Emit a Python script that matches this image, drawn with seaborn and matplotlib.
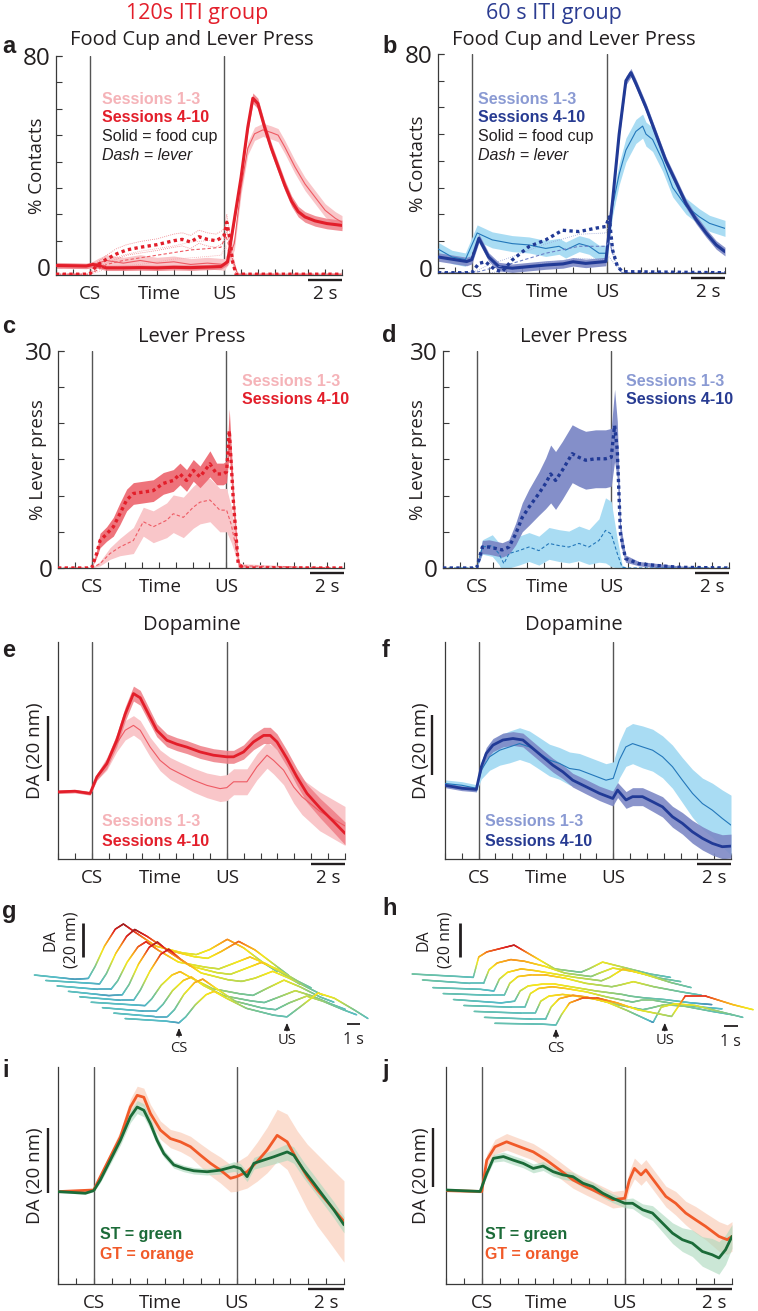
import numpy as np
import matplotlib
matplotlib.use("Agg")
import matplotlib.pyplot as plt
import seaborn as sns
from matplotlib.collections import LineCollection
from matplotlib.colors import LinearSegmentedColormap, Normalize
import matplotlib.transforms as mtransforms

# ------------------------------------------------------------------ data
# panel a : 120 s ITI, food cup (solid) and lever (dotted), % contacts
A_FC_LATE_T = [-2, -1, -0.2, 0.2, 1, 2, 3, 4, 5, 6, 7, 7.8, 8.2, 8.6, 9.0, 9.4, 9.7, 10.0, 10.4, 10.8, 11.2, 11.6, 12.0, 12.4, 12.8, 13.4, 14.1, 15]
A_FC_LATE = [0.6, 0.5, 0.4, 1.0, -0.3, -0.3, -0.2, -0.3, -0.1, -0.2, 0.0, 0.2, 2, 18, 34, 53, 64, 62, 53, 45, 38, 31, 25, 21, 19, 17.5, 16.5, 15.8]
A_FC_LATE_E = [1, 1, 1, 1, 1, 1, 1, 1, 1, 1, 1, 1, 1.2, 1.5, 1.8, 2, 2, 2, 2, 2, 2, 2, 2, 2, 2, 2, 2, 2]
A_FC_EARLY_T = [-2, -1, 0, 0.5, 1, 2, 3, 4, 5, 6, 7, 8.0, 8.3, 8.6, 9.0, 9.4, 9.8, 10.3, 10.8, 11.2, 11.6, 12.2, 12.8, 13.4, 14.0, 14.6, 15]
A_FC_EARLY = [0.8, 0.6, 0.5, 1.5, 2.5, 1.5, 2.5, 1.5, 2.0, 1.0, 1.5, 1.0, 4, 9, 30, 45, 50.5, 52, 51, 50, 45.5, 38, 31.5, 26.5, 21.5, 18.5, 17]
A_FC_EARLY_E = [1, 1, 1, 1.8, 2.2, 2.2, 2.2, 2.2, 2.2, 2.2, 2.2, 2.2, 2.5, 2.5, 2.5, 2.5, 2.5, 2.5, 2.5, 2.5, 2.5, 2.5, 2.5, 2.5, 2.5, 2.5, 2.5]
A_LEV_LATE_T = [-2, 0, 0.4, 1.0, 1.6, 2.2, 3.0, 4.0, 5.0, 5.5, 6.0, 6.5, 7.0, 7.5, 7.8, 8.0, 8.15, 8.3, 8.5, 8.7, 15]
A_LEV_LATE = [-2.7, -2.7, 0.5, 3, 5, 6.5, 7.5, 8.5, 10, 10.5, 9.5, 11.5, 10.5, 10, 11, 12, 17, 12, 2, -2.7, -2.7]
A_LEV_LATE_E = [0, 0, 1, 1.5, 2, 2, 2.2, 2.2, 2.5, 2.5, 2.5, 2.5, 2.5, 2.5, 2.5, 2.5, 3, 2, 0.5, 0, 0]
A_LEV_EARLY_T = [-2, 0, 0.5, 1, 2, 3, 4, 5, 6, 7, 7.8, 8.1, 8.4, 8.8, 15]
A_LEV_EARLY = [-2.7, -2.7, -1, 1, 2.5, 3.5, 4.5, 5.5, 6.5, 7, 7.5, 12, 5, -2.7, -2.7]
A_LEV_EARLY_E = [0, 0, 0.8, 1.5, 2, 2.5, 2.5, 2.5, 3, 3, 3, 4, 2, 0, 0]

# panel b : 60 s ITI
B_FC_LATE_T = [-2, -1, -0.3, 0, 0.42, 1.0, 1.6, 2.4, 3.4, 4.4, 5.4, 6.0, 6.75, 7.94, 8.34, 8.73, 9.13, 9.43, 9.72, 10.32, 10.91, 11.5, 12.1, 12.69, 13.29, 13.88, 14.48, 15]
B_FC_LATE = [4, 3, 2.3, 3, 11, 4, 0.4, -0.2, 0.4, 1, 1.4, 2.2, 1.6, 2.3, 25, 50, 70, 73, 69, 60, 50, 40, 32, 24, 18, 13, 8.5, 6]
B_FC_LATE_E = 1.6
B_FC_EARLY_T = [-2, -1.17, -0.38, 0.32, 1.21, 2.4, 3.39, 4.38, 5.17, 5.56, 6.36, 6.95, 7.54, 8.0, 8.34, 8.73, 9.13, 9.72, 10.12, 10.32, 10.71, 11.31, 11.9, 12.69, 13.49, 14.08, 15]
B_FC_EARLY = [7, 4, 3, 13, 10.4, 9, 8.5, 7.2, 8, 6.6, 9, 8, 5.4, 5.4, 23, 35, 44, 51, 53, 50, 48, 40, 30, 23, 19, 16.6, 14.7]
B_FC_EARLY_E = [2.5, 2.5, 2.5, 3, 3, 3, 3, 3, 3, 3, 3, 3, 3, 3, 3.5, 4, 4.5, 4.5, 4.5, 4.5, 4.5, 4, 3.5, 3, 3, 3, 3]
B_LEV_LATE_T = [-2, 0, 0.42, 0.81, 1.41, 1.8, 2.4, 3.39, 4.38, 5.37, 6.36, 7.35, 7.94, 8.14, 8.34, 8.63, 8.93, 15]
B_LEV_LATE = [-1.9, -1.9, 1.6, 2.2, -0.9, -1.5, 2.9, 7.9, 10.4, 14, 13.5, 14.8, 15.4, 19, 6.6, 0.4, -1.5, -1.9]
B_LEV_EARLY_T = [-2, 0, 0.42, 1.0, 2.4, 4.38, 6.36, 7.94, 8.14, 8.5, 8.9, 15]
B_LEV_EARLY = [-1.9, -1.9, -1.5, -0.5, 1.6, 5.4, 8, 8, 10, 2, -1.9, -1.9]
B_LEV_EARLY_E = [0, 0, 0.8, 1.5, 2.5, 3.5, 4.5, 5, 6, 1, 0, 0]

# panel c : 120 s ITI lever press
C_LATE_T = [-2, 0, 0.3, 0.5, 0.89, 1.29, 1.68, 2.08, 2.48, 3.07, 3.66, 4.26, 4.85, 5.25, 5.64, 6.04, 6.44, 7.03, 7.43, 7.82, 8.02, 8.18, 8.42, 8.71, 9.01, 15]
C_LATE = [0, 0, 2, 3.8, 4.7, 5.7, 7.5, 9.4, 10.3, 10.5, 10.7, 11.7, 12.1, 13, 12.1, 13.5, 12.6, 14.4, 13, 13, 13.3, 19, 9.4, 0.6, 0, 0]
C_LATE_E = [0, 0, 0.5, 1, 1, 1.3, 1.5, 1.5, 1.5, 1.5, 1.5, 1.5, 1.5, 1.5, 1.5, 1.5, 1.5, 1.8, 1.5, 1.5, 1.5, 3, 2, 0.5, 0, 0]
C_EARLY_T = [-2, 0, 0.5, 1.09, 1.68, 2.48, 3.07, 3.66, 4.46, 4.85, 5.45, 6.04, 6.44, 7.03, 7.62, 8.02, 8.3, 8.8, 15]
C_EARLY = [0, 0, 0.6, 2, 2.9, 3.8, 6.4, 5.7, 6.6, 7.5, 7, 8.4, 9.1, 9.4, 8, 8, 6, 0.3, 0]
C_EARLY_E = [0, 0, 0.3, 0.8, 1.2, 1.8, 2, 2.2, 2.4, 2.6, 2.8, 2.9, 3, 3, 3, 3, 2.5, 0.3, 0]

# panel d : 60 s ITI lever press
D_LATE_T = [-2, 0, 0.34, 0.73, 1.13, 1.52, 1.92, 2.32, 2.71, 3.11, 3.7, 4.1, 4.4, 4.69, 5.09, 5.68, 6.08, 6.48, 7.07, 7.66, 8.0, 8.2, 8.36, 8.55, 8.85, 9.64, 10.44, 12.0, 15]
D_LATE = [0, 0, 2.9, 2.9, 2.7, 2.5, 2.9, 4.7, 7, 8.4, 10.3, 11.7, 13, 12.1, 13.5, 15.8, 15.3, 14.9, 15.1, 15.1, 15.3, 19.7, 16.3, 4.7, 1.3, 0.6, 0.4, 0.1, 0]
D_LATE_E = [0, 0, 0.9, 1, 1, 1, 1, 1.5, 2, 2.5, 3, 3.5, 4, 4, 4, 4, 4, 4, 4, 4, 4, 5, 4, 1.5, 0.5, 0.3, 0.3, 0.2, 0]
D_EARLY_T = [-2, 0, 0.34, 0.93, 1.32, 1.62, 1.92, 2.51, 3.11, 3.7, 4.3, 4.89, 5.48, 6.08, 6.67, 7.27, 7.66, 8.0, 8.36, 8.65, 9.0, 15]
D_EARLY = [0, 0, 2.9, 3.1, 2, 0.6, 2, 2.4, 2.9, 2.4, 3.4, 3.1, 2.9, 3.4, 2.9, 3.8, 5.2, 4.7, 2, 0.1, 0, 0]
D_EARLY_E = [0, 0, 1, 1.5, 1.5, 1.5, 2, 2, 2, 2, 2.2, 2.2, 2.2, 2.4, 2.4, 3, 4.5, 4.5, 2, 0.3, 0, 0]

# panel e : 120 s ITI dopamine (nM)
E_LATE_T = [-2, -1, -0.1, 0.3, 0.89, 1.48, 1.98, 2.47, 2.87, 3.26, 3.85, 4.45, 5.04, 5.63, 6.42, 7.21, 8.0, 8.4, 8.99, 9.58, 10.18, 10.57, 10.97, 11.56, 12.15, 12.75, 13.54, 14.33, 15]
E_LATE = [0, 0.2, -0.5, 4.6, 8.7, 15.9, 24, 30.3, 29, 25, 19, 15.9, 14.7, 13.8, 12.3, 11.3, 10.8, 10.8, 12.3, 15.4, 17.4, 17.4, 15.4, 10.3, 4.6, -0.5, -5.1, -9.2, -12.8]
E_LATE_E = [0.5, 0.5, 0.5, 1, 1.5, 2, 2.2, 2.3, 2.3, 2.2, 2, 2, 2, 2, 2, 2, 2, 2, 2.2, 2.4, 2.5, 2.5, 2.5, 2.5, 2.6, 2.8, 3, 3.3, 3.5]
E_EARLY_T = [-2, -1, -0.1, 0.3, 0.89, 1.48, 1.98, 2.47, 2.87, 3.46, 4.05, 4.64, 5.24, 6.03, 6.82, 7.6, 8.0, 8.4, 9.19, 9.78, 10.38, 10.77, 11.36, 11.96, 12.45, 13.5, 15]
E_EARLY = [0, 0.3, -0.3, 4.6, 8.7, 14.9, 19, 20.5, 19, 13.8, 9.7, 7.2, 5.6, 3.6, 2, 1, 1.3, 3.1, 3.1, 7.7, 11.3, 9.7, 6.7, 1.5, -1.5, -6, -10.5]
E_EARLY_E = [0.5, 0.5, 0.5, 1, 2, 2.5, 3, 3, 3, 3, 3.2, 3.4, 3.5, 3.7, 3.8, 4, 4, 4, 4, 4, 4, 4.2, 4.5, 5, 5.5, 6, 6]

# panel f : 60 s ITI dopamine
F_LATE_T = [-2, -1.0, -0.14, 0.16, 0.45, 0.85, 1.44, 2.04, 2.63, 3.22, 3.81, 4.41, 5.0, 5.59, 6.39, 7.18, 7.97, 8.26, 8.76, 9.15, 9.74, 10.34, 10.93, 11.52, 12.11, 12.7, 13.3, 13.89, 14.48, 15]
F_LATE = [0.5, -0.5, -0.9, 6.7, 11.1, 13.9, 15.6, 16.1, 15.6, 12.8, 10, 7.2, 5, 2.2, 0, -2.2, -3.9, -1.1, -4.4, -3.3, -3.3, -5, -6.7, -10, -12.2, -15, -17.2, -18.9, -20, -19.8]
F_LATE_E = [0.8, 0.8, 0.8, 1.5, 2, 2.2, 2.3, 2.3, 2.3, 2.3, 2.3, 2.3, 2.3, 2.3, 2.4, 2.4, 2.5, 2.5, 2.8, 3, 3, 3.2, 3.4, 3.5, 3.6, 3.8, 3.9, 3.9, 4, 4]
F_EARLY_T = [-2, -1, -0.14, 0.16, 0.65, 1.25, 1.84, 2.43, 3.02, 3.62, 4.21, 4.8, 5.4, 5.99, 6.78, 7.57, 8.0, 8.36, 8.75, 9.15, 9.74, 10.34, 10.93, 11.52, 12.11, 12.71, 13.3, 13.89, 14.49, 15]
F_EARLY = [1.1, 0.5, -0.5, 5.6, 10, 12.2, 13.3, 14.4, 13.3, 11.1, 8.9, 7.8, 6.1, 5.6, 3.9, 2.2, 2.8, 8.9, 13.3, 14.4, 13.3, 12.2, 10, 6.7, 2.2, -2.2, -5.6, -7.8, -10.6, -12.8]
F_EARLY_E = [1.2, 1.2, 1.2, 3, 4.5, 5, 5.3, 5.3, 5.3, 5.3, 5.3, 5.3, 5.5, 5.5, 5.5, 5.5, 5.5, 6, 6.5, 6.7, 7, 7, 7, 7.2, 7.5, 8, 8.5, 9, 9.5, 10]

# panel g / h : waterfall of single-session dopamine traces (nM), back -> front
G_T = [-4.0, -1.0, 0.0, 0.5, 1.2, 2.0, 2.6, 3.5, 5.0, 7.0, 8.0, 9.0, 10.3, 11.5, 13.0, 14.0]
G_TRACES = [
    [2, -0.5, 0, 7, 19, 29, 32, 27, 19, 15, 14, 17, 23, 18, 9, 4],
    [2, 0.5, 0, 6, 18, 28, 32, 28, 20, 16, 15, 19, 25, 20, 11, 5],
    [2, 0, 0, 5, 16, 25, 28, 23, 16, 13, 12, 15, 19, 15, 8, 3],
    [2, -0.5, 0, 6, 18, 28, 31, 25, 17, 13, 12, 15, 19, 15, 8, 4],
    [2, 0, 0, 6, 17, 27, 30, 24, 16, 12, 11, 13, 17, 13, 7, 3],
    [2, 0.5, 0, 4, 12, 18, 20, 16, 10, 7, 6, 10, 15, 11, 5, 2],
    [2, 0, 0, 4, 12, 18, 20, 15, 9, 6, 5, 8, 12, 9, 4, 1],
    [2, 0, 0, 4, 13, 20, 22, 17, 9, 5, 4, 8, 12, 9, 4, 1],
    [2, 0.5, -0.5, 3, 10, 16, 18, 14, 8, 4, 3, 9, 17, 14, 7, 2],
]
H_T = [-4.5, -1.0, 0.0, 0.4, 1.0, 2.0, 3.0, 4.5, 6.0, 7.9, 8.5, 9.5, 11.0, 13.0, 14.5]
H_TRACES = [
    [2, 0.5, 0, 12, 15, 17, 19, 12, 5, 3, 5, 9, 6, 2, 0],
    [2, 0, 0, 8, 12, 14, 13, 10, 6, 4, 6, 9, 7, 3, 1],
    [1, 0, -1, 6, 10, 12, 11, 9, 7, 5, 7, 12, 9, 4, 1],
    [1, 0, 0, 7, 11, 12, 12, 10, 7, 5, 6, 8, 5, 2, 0],
    [1, -1, 0, 6, 9, 10, 10, 8, 6, 4, 3, 2, 1, -1, -2],
    [1, 0, 0, 8, 11, 12, 11, 9, 6, 3, 4, 4, 2, 0, -1],
    [1, 0, 0, 7, 10, 11, 10, 8, 5, 2, 3, 5, 4, 1, -1],
    [1, 0, 0, 7, 12, 14, 13, 10, 5, -2, 7, 9, 8, 4, 1],
    [1, 0.5, 0, 6, 13, 16, 16, 13, 9, 6, 5, 17, 17, 12, 9],
]

# panel i / j : sign-trackers (ST) vs goal-trackers (GT)
I_ST_T = [-2, -0.47, 0, 0.37, 0.93, 1.49, 2.05, 2.43, 2.8, 3.17, 3.54, 3.92, 4.48, 5.04, 5.6, 6.34, 7.09, 7.84, 8.21, 8.58, 8.96, 9.51, 10.07, 10.82, 11.19, 11.75, 12.31, 12.87, 13.43, 14]
I_ST = [0, -0.5, 0.3, 3.6, 9.7, 15.8, 23, 26, 25, 20.9, 15.8, 11.7, 8.2, 7.1, 6.4, 6.1, 6.6, 7.7, 7.1, 4.6, 8.7, 9.7, 10.7, 12.2, 11.2, 6.6, 2.6, -1.5, -5.6, -10.2]
I_ST_E = [0.3, 0.3, 0.3, 0.8, 1.2, 1.5, 1.8, 2, 2, 1.8, 1.5, 1.2, 1, 1, 1, 1, 1.2, 1.5, 1.5, 1.5, 1.8, 2, 2.2, 2.5, 2.5, 2.5, 2.5, 2.5, 2.5, 2.5]
I_GT_T = [-2, 0, 0.37, 0.93, 1.49, 2.05, 2.43, 2.8, 3.17, 3.73, 4.29, 4.85, 5.41, 5.97, 6.53, 7.09, 7.65, 8.0, 8.58, 9.14, 9.7, 10.26, 10.82, 11.38, 11.94, 12.5, 13.06, 14]
I_GT = [0, 0.5, 4.6, 10.7, 16.8, 26, 29.6, 29, 24, 18.9, 16.3, 15.3, 13.8, 11.2, 8.7, 6.6, 4.1, 4.6, 6.1, 9.2, 12.8, 17.3, 15.3, 9.7, 4.6, 0.5, -3.1, -9.2]
I_GT_E = [0.4, 0.4, 1, 1.5, 2, 2.5, 2.8, 2.8, 2.8, 2.8, 2.8, 3, 3.2, 3.5, 3.8, 4, 4.2, 4.5, 5, 6, 7, 8, 8.5, 9, 10, 11, 11.5, 12.5]
J_ST_T = [-2, -0.09, 0.28, 0.65, 1.21, 1.76, 2.32, 2.88, 3.43, 3.99, 4.55, 5.1, 5.66, 6.22, 6.77, 7.33, 8.0, 8.44, 9.0, 9.55, 10.11, 10.67, 11.22, 11.78, 12.34, 12.89, 13.27, 13.64, 14]
J_ST = [0.2, -0.3, 5.8, 10.9, 11.5, 10.3, 9.2, 7.5, 8.3, 6.4, 5.3, 4.7, 2.5, 1.3, -0.9, -2.6, -4.3, -4.3, -6.5, -7.6, -11, -14.4, -16.6, -17.8, -20.6, -21.7, -22.8, -20, -15.5]
J_ST_E = [0.4, 0.4, 1, 1.3, 1.5, 1.5, 1.5, 1.5, 1.5, 1.5, 1.5, 1.5, 1.5, 1.5, 1.5, 1.5, 1.5, 1.8, 2, 2.5, 3, 3.5, 4, 4.5, 5, 5.5, 5.5, 5, 4]
J_GT_T = [-2, 0, 0.28, 0.74, 1.39, 2.13, 2.88, 3.62, 4.36, 5.1, 5.84, 6.59, 7.33, 8.0, 8.26, 8.54, 8.91, 9.18, 9.74, 10.3, 10.85, 11.41, 11.97, 12.52, 13.27, 13.73, 14]
J_GT = [0, -0.3, 10.3, 14.8, 16.5, 14.8, 13.1, 10.3, 7, 3.6, 1.3, -0.9, -3.1, -2.6, 3.6, 7.5, 5.3, 7, 2.5, -2, -4.3, -7.6, -9.9, -12.1, -15.5, -16.6, -15.5]
J_GT_E = [0.4, 0.4, 2, 2.5, 2.8, 2.8, 2.8, 2.8, 2.8, 2.8, 2.8, 2.8, 2.8, 2.8, 3, 3.5, 3.5, 3.5, 3.5, 3.5, 4, 4, 4.5, 4.5, 5, 5, 5]

X_LABELS = ["CS", "Time", "US", "2 s"]

# ------------------------------------------------------------------ style
sns.set_theme(style="white")
plt.rcParams["font.family"] = ["Open Sans", "DejaVu Sans"]
plt.rcParams["axes.unicode_minus"] = False

RED = "#E31E2A"; RED_THIN = "#EE5A63"; RED_FILL = "#EF7E86"; PINK_FILL = "#F9C6C9"; PINK_TXT = "#F5B3B8"
BLUE = "#213A96"; BLUE_FILL = "#7D89C6"; LBLUE_FILL = "#A9DCF3"; LBLUE_LINE = "#2377BA"
BLUE_TXT_L = "#8A9AD3"; BLUE_TXT = "#273B92"
GREEN = "#1B6B38"; GREEN_FILL = "#A9D8BB"; ORANGE = "#F15A29"; ORANGE_FILL = "#F9C2A9"
INK = "#231F20"
DOT = (0, (1, 1)); DASH = (0, (3, 2))
LEG_FS = 11.5

W, H = 758, 1311
fig = plt.figure(figsize=(W / 100, H / 100), dpi=100)


def add_ax(l, t, r, b):
    return fig.add_axes([l / W, 1 - b / H, (r - l) / W, (b - t) / H])


def ftext(x, y, s, **kw):
    fig.text(x / W, 1 - y / H, s, **kw)


def series(ax, t, m, color, lw, ls="-", e=None, fill=None, alpha=1.0, z=3, fz=2):
    t = np.asarray(t, float); m = np.asarray(m, float)
    if e is not None and fill is not None:
        e = np.broadcast_to(np.asarray(e, float), m.shape)
        ax.fill_between(t, m - e, m + e, color=fill, lw=0, alpha=alpha, zorder=fz)
    sns.lineplot(x=t, y=m, ax=ax, color=color, lw=lw, linestyle=ls, zorder=z,
                 sort=False, estimator=None, legend=False)


def sem_lines(ax, t, m, e, color):
    t = np.asarray(t, float); m = np.asarray(m, float); e = np.asarray(e, float)
    for sgn in (-1, 1):
        sns.lineplot(x=t, y=m + sgn * e, ax=ax, color=color, lw=0.6, linestyle=(0, (1, 1.5)),
                     zorder=2, sort=False, estimator=None, legend=False)


def time_axes(ax, xmax, ylim, time_x, bar, hpx):
    ax.set_xlim(-2, xmax)
    ax.set_ylim(*ylim)
    sns.despine(ax=ax)
    for s in ("left", "bottom"):
        ax.spines[s].set_color("#3a3a3a"); ax.spines[s].set_linewidth(0.9)
    ax.set_xticks([0, time_x, 8, (bar[0] + bar[1]) / 2])
    ax.set_xticklabels(X_LABELS)
    ax.set_xticks(np.arange(-2, xmax + 0.5, 1), minor=True)
    ax.xaxis.remove_overlapping_locs = False
    ax.tick_params(axis="x", which="major", length=0, pad=7, labelsize=13.5, labelcolor=INK)
    ax.tick_params(axis="x", which="minor", direction="in", length=4, width=0.8,
                   color="#3a3a3a", bottom=True)
    for xv in (0, 8):
        ax.axvline(xv, color="#555555", lw=1.0, zorder=1)
    ax.plot(bar, [-5 / hpx] * 2, transform=ax.get_xaxis_transform(), color=INK,
            lw=1.7, clip_on=False, solid_capstyle="butt")
    ax.set_xlabel("")


def count_yaxis(ax, top, step, label, lx):
    ax.set_yticks([0, top])
    ax.set_yticks(np.arange(0, top + 0.1, step), minor=True)
    ax.yaxis.remove_overlapping_locs = False
    ax.tick_params(axis="y", which="both", direction="in", length=4, width=0.8,
                   color="#3a3a3a", left=True)
    ax.tick_params(axis="y", which="major", labelsize=17.5, pad=4, labelcolor=INK)
    ax.set_ylabel(label, fontsize=13.5, color=INK)
    ax.yaxis.set_label_coords(lx, 0.5)


def da_yaxis(ax, lx, bx, b0):
    ax.set_yticks([])
    ax.set_ylabel("DA (20 nm)", fontsize=13.5, color=INK)
    ax.yaxis.set_label_coords(lx, 0.5)
    tr = mtransforms.blended_transform_factory(ax.transAxes, ax.transData)
    ax.plot([bx, bx], [b0, b0 + 20], transform=tr, color=INK, lw=1.7, clip_on=False,
            solid_capstyle="butt")


def legend2(x, y, c1, c2, t1="Sessions 1-3", t2="Sessions 4-10"):
    ftext(x, y, t1, color=c1, fontsize=LEG_FS, fontweight="bold", family="Liberation Sans", va="center")
    ftext(x, y + 19, t2, color=c2, fontsize=LEG_FS, fontweight="bold", family="Liberation Sans", va="center")


def letter(x, y, s):
    ftext(x, y, s, fontsize=17, fontweight="bold", family="Liberation Sans", va="baseline", color=INK)


# ------------------------------------------------------------------ headers
ftext(197, 13, "120s ITI group", color=RED, fontsize=15.5, ha="center", va="center")
ftext(554, 13, "60 s ITI group", color="#2B3C91", fontsize=15.5, ha="center", va="center")

# ------------------------------------------------------------------ a
ax = add_ax(56, 56, 342, 275)
series(ax, A_FC_EARLY_T, A_FC_EARLY, RED_THIN, 0.8, e=A_FC_EARLY_E, fill=PINK_FILL, fz=1.5)
series(ax, A_FC_LATE_T, A_FC_LATE, RED, 2.2, e=A_FC_LATE_E, fill=RED_FILL, alpha=0.85, fz=2)
sem_lines(ax, A_LEV_EARLY_T, A_LEV_EARLY, A_LEV_EARLY_E, "#F4A3A8")
sem_lines(ax, A_LEV_LATE_T, A_LEV_LATE, A_LEV_LATE_E, "#EF7A82")
series(ax, A_LEV_EARLY_T, A_LEV_EARLY, RED_THIN, 0.8, ls=DASH)
series(ax, A_LEV_LATE_T, A_LEV_LATE, RED, 2.4, ls=DOT, z=4)
time_axes(ax, 15, (-3, 80), 4.17, (13, 15), 219)
count_yaxis(ax, 80, 10, "% Contacts", -0.035)
ftext(192, 40, "Food Cup and Lever Press", fontsize=14.5, ha="center", va="center", color=INK)
legend2(102, 99, PINK_TXT, RED)
ftext(102, 137, "Solid = food cup", fontsize=LEG_FS, family="Liberation Sans", va="center", color=INK)
ftext(102, 156, "Dash = lever", fontsize=LEG_FS, family="Liberation Sans", style="italic", va="center", color=INK)
letter(2, 53, "a")

# ------------------------------------------------------------------ b
ax = add_ax(438, 54, 725, 273)
series(ax, B_FC_EARLY_T, B_FC_EARLY, LBLUE_LINE, 0.8, e=B_FC_EARLY_E, fill=LBLUE_FILL, fz=1.5)
series(ax, B_FC_LATE_T, B_FC_LATE, BLUE, 2.2, e=B_FC_LATE_E, fill=BLUE_FILL, alpha=0.9, fz=2)
sem_lines(ax, B_LEV_EARLY_T, B_LEV_EARLY, B_LEV_EARLY_E, "#9AA6D8")
series(ax, B_LEV_EARLY_T, B_LEV_EARLY, "#6C7FC6", 0.8, ls=DASH)
series(ax, B_LEV_LATE_T, B_LEV_LATE, BLUE, 2.4, ls=DOT, z=4)
time_axes(ax, 15, (-2, 80), 4.47, (13, 15), 219)
count_yaxis(ax, 80, 10, "% Contacts", -0.038)
ftext(574, 40, "Food Cup and Lever Press", fontsize=14.5, ha="center", va="center", color=INK)
legend2(478, 99, BLUE_TXT_L, BLUE_TXT)
ftext(478, 137, "Solid = food cup", fontsize=LEG_FS, family="Liberation Sans", va="center", color=INK)
ftext(478, 156, "Dash = lever", fontsize=LEG_FS, family="Liberation Sans", style="italic", va="center", color=INK)
letter(382, 53, "b")

# ------------------------------------------------------------------ c
ax = add_ax(58, 351, 344, 568)
series(ax, C_EARLY_T, C_EARLY, RED_THIN, 0.8, ls=DASH, e=C_EARLY_E, fill=PINK_FILL, fz=1.5)
series(ax, C_LATE_T, C_LATE, RED, 2.4, ls=DOT, e=C_LATE_E, fill="#EE6B74", alpha=0.95, fz=2, z=4)
time_axes(ax, 15, (0, 30), 4.06, (13, 15), 217)
count_yaxis(ax, 30, 5, "% Lever press", -0.04)
ftext(192, 337, "Lever Press", fontsize=14.5, ha="center", va="center", color=INK)
legend2(242, 381, PINK_TXT, RED)
letter(2, 333, "c")

# ------------------------------------------------------------------ d
ax = add_ax(443, 351, 729, 568)
series(ax, D_EARLY_T, D_EARLY, LBLUE_LINE, 0.8, ls=DASH, e=D_EARLY_E, fill=LBLUE_FILL, fz=1.5)
series(ax, D_LATE_T, D_LATE, BLUE, 2.4, ls=DOT, e=D_LATE_E, fill=BLUE_FILL, alpha=0.95, fz=2, z=4)
time_axes(ax, 15, (0, 30), 4.2, (13, 15), 217)
count_yaxis(ax, 30, 5, "% Lever press", -0.056)
ftext(574, 337, "Lever Press", fontsize=14.5, ha="center", va="center", color=INK)
legend2(626, 381, BLUE_TXT_L, BLUE_TXT)
letter(382, 342, "d")

# ------------------------------------------------------------------ e
ax = add_ax(58, 642, 345, 859)
series(ax, E_EARLY_T, E_EARLY, RED_THIN, 0.8, e=E_EARLY_E, fill=PINK_FILL, fz=1.5)
series(ax, E_LATE_T, E_LATE, RED, 2.0, e=E_LATE_E, fill=RED_FILL, alpha=0.85, fz=2)
time_axes(ax, 15, (-20.7, 46.2), 4.05, (13, 15), 217)
da_yaxis(ax, -0.049, -0.035, 3.3)
ftext(192, 625, "Dopamine", fontsize=14.5, ha="center", va="center", color=INK)
legend2(102, 822, PINK_TXT, RED)
letter(2, 657, "e")

# ------------------------------------------------------------------ f
ax = add_ax(445, 642, 731, 859)
series(ax, F_EARLY_T, F_EARLY, LBLUE_LINE, 0.8, e=F_EARLY_E, fill=LBLUE_FILL, fz=1.5)
series(ax, F_LATE_T, F_LATE, BLUE, 2.0, e=F_LATE_E, fill=BLUE_FILL, alpha=0.9, fz=2)
time_axes(ax, 15, (-24.1, 48.3), 4.0, (13, 15), 217)
da_yaxis(ax, -0.052, -0.045, 3.9)
ftext(574, 625, "Dopamine", fontsize=14.5, ha="center", va="center", color=INK)
legend2(485, 822, BLUE_TXT_L, BLUE_TXT)
letter(382, 657, "f")

# ------------------------------------------------------------------ g / h waterfalls
WF_CMAP = LinearSegmentedColormap.from_list(
    "wf", [(0, "#2e3192"), (0.12, "#55bcc8"), (0.3, "#7cc58f"), (0.45, "#d2df3c"),
           (0.55, "#f6e61c"), (0.72, "#f7941d"), (0.87, "#e2231f"), (1, "#8c1a1c")])


def waterfall(ax, t, traces, dx, dy, vmin, vmax):
    norm = Normalize(vmin, vmax)
    t = np.asarray(t, float)
    n = len(traces)
    for k, v in enumerate(traces):
        v = np.asarray(v, float)
        back = n - 1 - k
        # subdivide the straight segments only so the colour can vary along them
        tf = np.linspace(t[0], t[-1], 500)
        vf = np.interp(tf, t, v)
        pts = np.column_stack([tf - back * dx, vf + back * dy]).reshape(-1, 1, 2)
        segs = np.concatenate([pts[:-1], pts[1:]], axis=1)
        cols = WF_CMAP(norm(0.5 * (vf[:-1] + vf[1:])))
        ax.add_collection(LineCollection(segs, colors=cols, lw=1.1, zorder=k + 1,
                                         capstyle="round"))


def wf_annot(ax, bar_x, bar_y0, sbar_x, sbar_y, cs_y, us_y, cs_lab, us_lab, fx, fy_c):
    ax.plot([bar_x, bar_x], [bar_y0, bar_y0 + 20], color=INK, lw=2.0, clip_on=False,
            solid_capstyle="butt")
    ax.plot(sbar_x, [sbar_y, sbar_y], color=INK, lw=1.3, clip_on=False, solid_capstyle="butt")
    ax.text(np.mean(sbar_x), sbar_y - 4.5, "1 s", ha="center", va="top", fontsize=11.5, color=INK)
    for xv, (y0, y1), lab in ((0, cs_y, cs_lab), (8, us_y, us_lab)):
        ax.annotate("", xy=(xv, y1), xytext=(xv, y0),
                    arrowprops=dict(arrowstyle="-|>,head_length=0.35,head_width=0.15",
                                    color=INK, lw=0.8, shrinkA=0, shrinkB=0))
        ax.text(xv, lab, ["CS", "US"][xv == 8], ha="center", va="center", fontsize=10.5, color=INK)
    ftext(fx[0], fy_c, "DA", rotation=90, fontsize=11.5, ha="center", va="center", color=INK)
    ftext(fx[1], fy_c, "(20 nm)", rotation=90, fontsize=11.5, ha="center", va="center", color=INK)


ax = add_ax(30, 915, 370, 1050)
waterfall(ax, G_T, G_TRACES, 0.84, 3.2, -4, 33)
ax.set_xlim(-11.04, 14.15); ax.set_ylim(-16.5, 62.9); ax.axis("off")
wf_annot(ax, -7.1, 38.2, (12.44, 13.44), -1.2, (-8.9, -3.6), (-5.3, -0.6), -15.9, -11.2,
         (50, 72), 940)
letter(2, 918, "g")

ax = add_ax(405, 915, 760, 1050)
waterfall(ax, H_T, H_TRACES, 0.76, 3.5, -4, 21)
ax.set_xlim(-11.1, 15.0); ax.set_ylim(-14.7, 64.7); ax.axis("off")
wf_annot(ax, -7.06, 40.0, (12.36, 13.36), -0.6, (-7.6, -2.3), (-3.5, 1.2), -14.1, -9.4,
         (423, 445), 940)
letter(382, 915, "h")

# ------------------------------------------------------------------ i
ax = add_ax(58, 1067, 344, 1284)
series(ax, I_GT_T, I_GT, ORANGE, 2.0, e=I_GT_E, fill=ORANGE_FILL, alpha=0.55, fz=1.5, z=3)
series(ax, I_ST_T, I_ST, GREEN, 2.0, e=I_ST_E, fill=GREEN_FILL, alpha=0.6, fz=2, z=4)
time_axes(ax, 14, (-28.4, 38.3), 3.73, (12, 14), 217)
da_yaxis(ax, -0.049, -0.035, -0.3)
ftext(100, 1235, "ST = green", color=GREEN, fontsize=LEG_FS, fontweight="bold", family="Liberation Sans", va="center")
ftext(100, 1254, "GT = orange", color=ORANGE, fontsize=LEG_FS, fontweight="bold", family="Liberation Sans", va="center")
letter(2, 1077, "i")

# ------------------------------------------------------------------ j
ax = add_ax(446, 1067, 732, 1284)
series(ax, J_GT_T, J_GT, ORANGE, 2.0, e=J_GT_E, fill=ORANGE_FILL, alpha=0.55, fz=1.5, z=3)
series(ax, J_ST_T, J_ST, GREEN, 2.0, e=J_ST_E, fill=GREEN_FILL, alpha=0.6, fz=2, z=4)
time_axes(ax, 14, (-31.6, 41.8), 3.6, (12, 14), 217)
da_yaxis(ax, -0.055, -0.045, 1.3)
ftext(485, 1235, "ST = green", color=GREEN, fontsize=LEG_FS, fontweight="bold", family="Liberation Sans", va="center")
ftext(485, 1254, "GT = orange", color=ORANGE, fontsize=LEG_FS, fontweight="bold", family="Liberation Sans", va="center")
letter(382, 1077, "j")

fig.savefig("out.png", dpi=100)
